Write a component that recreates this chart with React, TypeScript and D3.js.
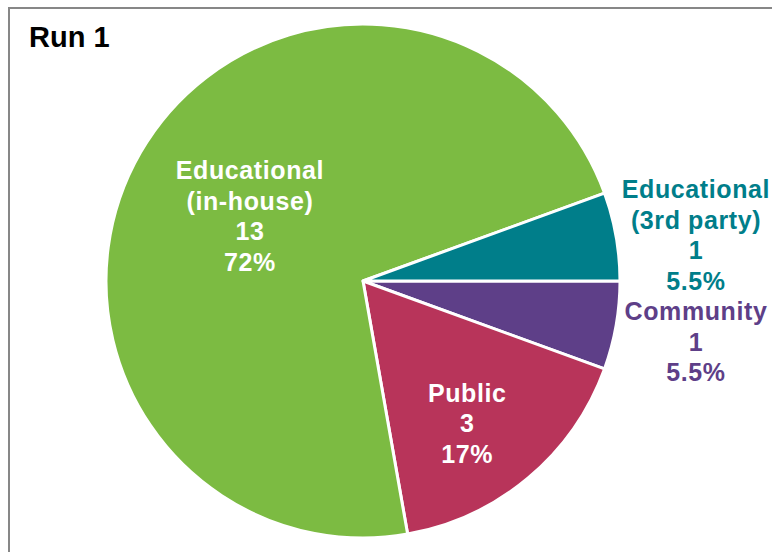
import React from "react";
import * as d3 from "d3";

const categories = ["Community", "Public", "Educational (in-house)", "Educational (3rd party)"];
const labelLines = [["Community"], ["Public"], ["Educational", "(in-house)"], ["Educational", "(3rd party)"]];
const values = [1, 3, 13, 1];
const percentLabels = ["5.5%", "17%", "72%", "5.5%"];
const colors = ["#5E3F88", "#B8345A", "#7CBB42", "#007E8A"];
const textColors = ["#5E3F88", "#ffffff", "#ffffff", "#007E8A"];

const W = 772;
const H = 552;
const cx = 363;
const cy = 281;
const R = 257;

const labelPlace = [
  { mode: "out", x: 696, y: 320 },
  { mode: "in", rf: 0.69, da: 4 },
  { mode: "in", rf: 0.506, da: -0.4 },
  { mode: "out", x: 696, y: 198 },
];

export default function App() {
  const pie = d3
    .pie<number>()
    .sort(null)
    .startAngle(Math.PI / 2)
    .endAngle(Math.PI / 2 + 2 * Math.PI);
  const arcs = pie(values);
  const arc = d3.arc<d3.PieArcDatum<number>>().innerRadius(0).outerRadius(R);
  const lineH = 30.5;

  return (
    <svg
      width={W}
      height={H}
      style={{ position: "absolute", left: 0, top: 0, background: "#fff" }}
      fontFamily="'Liberation Sans', Arial, sans-serif"
    >
      <rect x={9} y={8} width={W} height={H} fill="#fff" stroke="#878787" strokeWidth={2} />
      <text x={29} y={47} fontSize={29} fontWeight="bold" fill="#000">
        Run 1
      </text>
      <g transform={`translate(${cx},${cy})`}>
        {arcs.map((a, i) => (
          <path key={categories[i]} d={arc(a) || ""} fill={colors[i]} stroke="#fff" strokeWidth={3} strokeLinejoin="round" />
        ))}
      </g>
      {arcs.map((a, i) => {
        const p = labelPlace[i];
        const lines = [...labelLines[i], String(values[i]), percentLabels[i]];
        let x: number, y0: number;
        if (p.mode === "out") {
          x = p.x as number;
          y0 = p.y as number;
        } else {
          const mid = (a.startAngle + a.endAngle) / 2 + ((p.da as number) * Math.PI) / 180;
          const r = (p.rf as number) * R;
          x = cx + r * Math.sin(mid);
          const ly = cy - r * Math.cos(mid);
          y0 = ly - ((lines.length - 1) * lineH) / 2 + 8;
        }
        return (
          <text
            key={"l" + i}
            x={x}
            y={y0}
            textAnchor="middle"
            fontSize={25}
            fontWeight="bold"
            fill={textColors[i]}
            letterSpacing={0.6}
          >
            {lines.map((t, j) => (
              <tspan key={j} x={x} y={y0 + j * lineH}>
                {t}
              </tspan>
            ))}
          </text>
        );
      })}
    </svg>
  );
}
